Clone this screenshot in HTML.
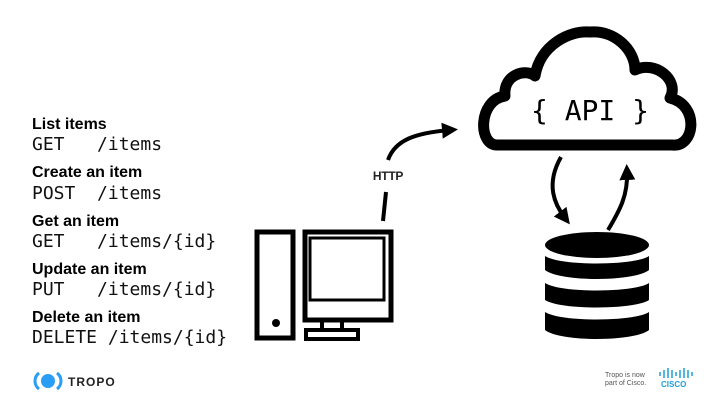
<!DOCTYPE html>
<html><head><style>
body{margin:0;width:720px;height:405px;background:#fff;position:relative;overflow:hidden;font-family:"Liberation Sans",sans-serif}
.h{position:absolute;left:32px;font-weight:bold;font-size:16px;color:#000}
.m{position:absolute;left:32px;font-family:"DejaVu Sans Mono","Liberation Mono",monospace;font-size:18px;color:#111;white-space:pre}
</style></head><body>
<div class="h" style="top:116px">List items</div><div class="m" style="top:134px">GET   /items</div>
<div class="h" style="top:164px">Create an item</div><div class="m" style="top:183px">POST  /items</div>
<div class="h" style="top:213px">Get an item</div><div class="m" style="top:231px">GET   /items/{id}</div>
<div class="h" style="top:261px">Update an item</div><div class="m" style="top:279px">PUT   /items/{id}</div>
<div class="h" style="top:309px">Delete an item</div><div class="m" style="top:327px">DELETE /items/{id}</div>
<svg width="720" height="405" style="position:absolute;left:0;top:0">
<defs><marker id="a" markerWidth="4" markerHeight="4" refX="2" refY="2" orient="auto"><path d="M0,0L4,2L0,4z" fill="#000"/></marker></defs>
<path d="M497,145 C478,145 478,100 505,96 C503,75 525,68 535,76 C540,45 570,30 590,32 C615,30 635,50 635,70 C655,60 680,80 670,98 C700,105 695,148 672,145 Z" fill="#fff" stroke="#000" stroke-width="11" stroke-linejoin="round"/>
<text x="590" y="120" text-anchor="middle" font-family="DejaVu Sans Mono,monospace" font-size="28" fill="#000">{ API }</text>
<path d="M383,221 L386,192" stroke="#000" stroke-width="4" fill="none"/>
<path d="M388,160 C395,140 415,133 450,130" stroke="#000" stroke-width="4" fill="none" marker-end="url(#a)"/>
<text x="388" y="180" text-anchor="middle" font-weight="bold" font-size="12" fill="#222" letter-spacing="-0.3">HTTP</text>
<path d="M561,157 C545,185 555,205 565,218" stroke="#000" stroke-width="4" fill="none" marker-end="url(#a)"/>
<path d="M608,230 C620,210 628,195 627,172" stroke="#000" stroke-width="4" fill="none" marker-end="url(#a)"/>
<rect x="257" y="232" width="36" height="106" fill="none" stroke="#000" stroke-width="5"/>
<circle cx="276" cy="323" r="4" fill="#000"/>
<rect x="305" y="232" width="86" height="88" fill="none" stroke="#000" stroke-width="5"/>
<rect x="310" y="238" width="74" height="62" fill="none" stroke="#000" stroke-width="3"/>
<rect x="322" y="320" width="20" height="10" fill="none" stroke="#000" stroke-width="4"/>
<rect x="306" y="330" width="52" height="9" fill="none" stroke="#000" stroke-width="4"/>
<g fill="#000">
<ellipse cx="597" cy="245" rx="52" ry="13"/>
<path d="M545,256 C560,266 634,266 649,256 L649,270 C634,282 560,282 545,270Z"/>
<path d="M545,283 C560,293 634,293 649,283 L649,300 C634,310 560,310 545,300Z"/>
<path d="M545,312 C560,322 634,322 649,312 L649,330 C634,342 560,342 545,330Z"/>
</g>
<circle cx="48" cy="381" r="7" fill="#2a9df4"/>
<path d="M39,373 A10,10 0 0 0 39,389" stroke="#2a9df4" stroke-width="3" fill="none"/>
<path d="M57,373 A10,10 0 0 1 57,389" stroke="#2a9df4" stroke-width="3" fill="none"/>
<text x="68" y="386" font-weight="bold" font-size="12" fill="#222" letter-spacing="1">TROPO</text>
<text x="605" y="377" font-size="7" fill="#555">Tropo is now</text>
<text x="605" y="385" font-size="7" fill="#555">part of Cisco.</text>
<g stroke="#1ba0d7" stroke-width="1.5">
<path d="M660,372v4M664,370v8M668,368v10M672,370v8M676,372v4M680,370v8M684,368v10M688,370v8M692,372v4"/>
</g>
<text x="661" y="387" font-weight="bold" font-size="8" fill="#1ba0d7">CISCO</text>
</svg>
</body></html>
